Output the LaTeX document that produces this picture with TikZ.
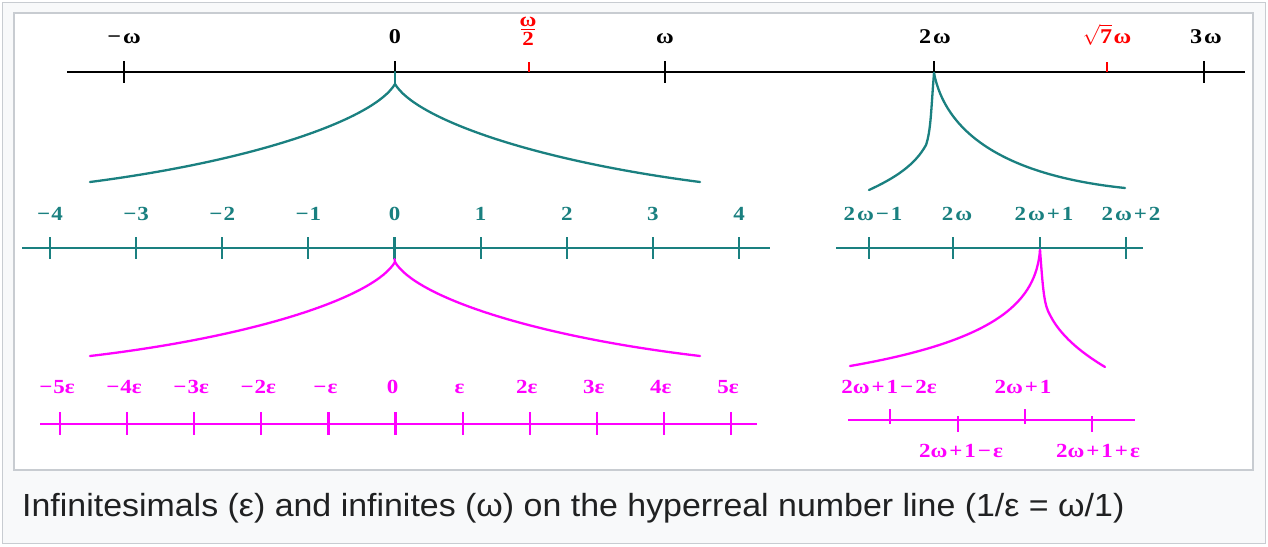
\documentclass[tikz,border=0pt]{standalone}
\usepackage{fontspec}
\setmainfont{Liberation Serif}
\newfontfamily\lblfont[FakeStretch=1.15]{Liberation Serif}
\newfontfamily\capfont[FakeStretch=1.06]{Liberation Sans}
\definecolor{tealc}{RGB}{26,128,128}
\definecolor{magc}{RGB}{255,0,255}
\definecolor{redc}{RGB}{255,0,0}
\definecolor{framegray}{RGB}{200,204,209}
\definecolor{capbg}{RGB}{248,249,250}
\definecolor{captext}{RGB}{32,33,34}
\newcommand\PL{\kern2pt+\kern2pt}
\newcommand\MI{\kern2pt−\kern2pt}
\newcommand\W{\kern2ptω}
\begin{document}
\begin{tikzpicture}[x=1pt,y=-1pt,
  axis/.style={line width=2.6pt},
  tk/.style={line width=2.2pt},
  lbl/.style={font=\lblfont\fontsize{20}{22}\selectfont\bfseries, inner sep=0pt, anchor=base},
  tlbl/.style={font=\lblfont\fontsize{21}{23}\selectfont\bfseries, inner sep=0pt, anchor=base},
  flbl/.style={font=\lblfont\fontsize{20}{22}\selectfont\bfseries, inner sep=0pt, anchor=base, text=redc},
  curve/.style={line width=2.3pt, line cap=round}]
\useasboundingbox (0,0) rectangle (1268,546);
\draw[framegray, fill=capbg, line width=1.2pt] (2.5,2.5) rectangle (1265.5,543.5);
\draw[framegray, fill=white, line width=1.2pt] (14,13) rectangle (1253,470);

% ---------- top axis ----------
\coordinate (tA) at (67,72); \coordinate (tB) at (1245,72);
\draw[axis] (tA) -- (tB);
\foreach \n/\x in {mw/124, w/665, tw/1204}{
  \coordinate (\n u) at (\x,61); \coordinate (\n d) at (\x,83);
  \draw[tk] (\n u) -- (\n d);}
\foreach \n/\x in {z/395, dw/934}{
  \coordinate (\n u) at (\x,61); \coordinate (\n d) at (\x,72);
  \draw[tk] (\n u) -- (\n d);}
\foreach \n/\x in {hw/529, sw/1107}{
  \coordinate (\n u) at (\x,62); \coordinate (\n d) at (\x,72);
  \draw[line width=1.8pt, redc] (\n u) -- (\n d);}
\node[tlbl] (lmw) at (124,43) {−\W};
\node[tlbl] (lz) at (395,43) {0};
\node[flbl] (lhwn) at (528,26) {ω};
\node[flbl] (lhwd) at (528,45) {2};
\coordinate (fbA) at (521,29.5); \coordinate (fbB) at (535,29.5);
\draw[redc, line width=1.6pt] (fbA) -- (fbB);
\node[tlbl] (lw) at (665,43) {ω};
\node[tlbl] (ldw) at (935,43) {2\W};
\node[tlbl, text=redc] (lsw) at (1107,43) {$\sqrt{\hbox{\lblfont\bfseries 7}}$\kern1.5ptω};
\node[tlbl] (ltw) at (1206,43) {3\W};

% ---------- teal curves ----------
\coordinate (ca) at (395,84);
\draw[curve, tealc] (zd) -- (ca);
\draw[curve, tealc] (ca) .. controls (375,118) and (260,160) .. (90,182);
\draw[curve, tealc] (ca) .. controls (415,118) and (530,160) .. (700,182);
\coordinate (cb) at (934,73);
\draw[curve, tealc] (cb) .. controls (931,110) and (931,130) .. (926,145)
   .. controls (915,165) and (895,178) .. (869,190);
\draw[curve, tealc] (cb) .. controls (945,130) and (1000,175) .. (1125,188);

% ---------- teal lines ----------
\coordinate (mA) at (22,248); \coordinate (mB) at (770,248);
\draw[axis, tealc] (mA) -- (mB);
\foreach \i/\t in {0/−\kern1pt4,1/−\kern1pt3,2/−\kern1pt2,3/−\kern1pt1,4/0,5/1,6/2,7/3,8/4}{
  \pgfmathsetmacro\xx{50+86.125*\i}
  \coordinate (m\i u) at (\xx,237); \coordinate (m\i d) at (\xx,259);
  \draw[tk, tealc] (m\i u) -- (m\i d);
  \node[lbl, text=tealc] (ml\i) at (\xx,220) {\t};}
\coordinate (rA) at (836,248); \coordinate (rB) at (1143,248);
\draw[axis, tealc] (rA) -- (rB);
\foreach \i/\x/\lx/\t in {0/869/873/2\W\MI 1, 1/953/957/2\W, 2/1040/1044/2\W\PL 1, 3/1126/1131/2\W\PL 2}{
  \coordinate (r\i u) at (\x,237); \coordinate (r\i d) at (\x,259);
  \draw[tk, tealc] (r\i u) -- (r\i d);
  \node[lbl, text=tealc] (rl\i) at (\lx,220) {\t};}

% ---------- magenta curves ----------
\coordinate (cc) at (395,262);
\draw[curve, magc] (m4d) -- (cc);
\draw[curve, magc] (cc) .. controls (375,296) and (260,336) .. (90,356);
\draw[curve, magc] (cc) .. controls (415,296) and (530,336) .. (700,356);
\coordinate (cd) at (1040,250);
\draw[curve, magc] (cd) .. controls (1036,300) and (1000,340) .. (850,366);
\draw[curve, magc] (cd) .. controls (1043,290) and (1044,305) .. (1050,315)
   .. controls (1060,335) and (1080,352) .. (1105,367);

% ---------- magenta lines ----------
\coordinate (eA) at (40,424); \coordinate (eB) at (757,424);
\draw[axis, magc] (eA) -- (eB);
\foreach \i/\t in {0/−\kern1pt5ε,1/−\kern1pt4ε,2/−\kern1pt3ε,3/−\kern1pt2ε,4/−\kern1ptε,5/0,6/ε,7/2ε,8/3ε,9/4ε,10/5ε}{
  \pgfmathsetmacro\xx{60+67.1*\i}
  \coordinate (e\i u) at (\xx,412); \coordinate (e\i d) at (\xx,435);
  \draw[tk, magc] (e\i u) -- (e\i d);
  \node[lbl, text=magc] (el\i) at (\xx-3,393) {\t};}
\coordinate (fA) at (848,420); \coordinate (fB) at (1135,420);
\draw[axis, magc] (fA) -- (fB);
\coordinate (f0u) at (890,409); \coordinate (f0d) at (890,424);
\coordinate (f1u) at (958,416); \coordinate (f1d) at (958,432);
\coordinate (f2u) at (1025,409); \coordinate (f2d) at (1025,424);
\coordinate (f3u) at (1092,416); \coordinate (f3d) at (1092,432);
\foreach \i in {0,1,2,3}{\draw[tk, magc] (f\i u) -- (f\i d);}
\node[lbl, text=magc] (fl0) at (889,393) {2ω\PL 1\MI 2ε};
\node[lbl, text=magc] (fl2) at (1023,393) {2ω\PL 1};
\node[lbl, text=magc] (fl1) at (961,457) {2ω\PL 1\MI ε};
\node[lbl, text=magc] (fl3) at (1098,457) {2ω\PL 1\PL ε};

% ---------- caption ----------
\node[font=\capfont\fontsize{32}{35}\selectfont, text=captext, inner sep=0pt, anchor=base west] (cap) at (22,516)
  {Infinitesimals (ε) and infinites (ω) on the hyperreal number line (1/ε = ω/1)};
\end{tikzpicture}
\end{document}
